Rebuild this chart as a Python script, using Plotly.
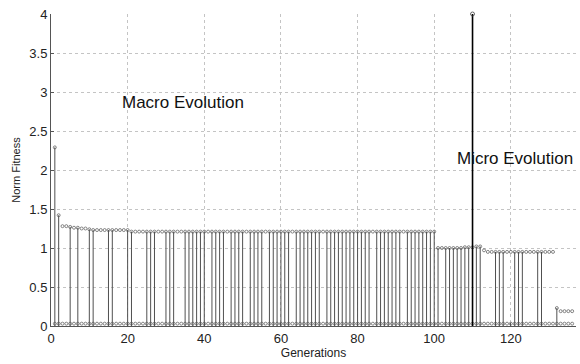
import plotly.graph_objects as go

# ---- data ----
generations = list(range(1, 137))
norm_fitness = (
    [2.29, 1.42, 1.28, 1.28, 1.27, 1.26, 1.26, 1.25, 1.25, 1.24,
     1.23, 1.23, 1.23, 1.23, 1.23, 1.23, 1.23, 1.23, 1.23, 1.23]      # gens 1-20
    + [1.21] * 80                                                     # gens 21-100
    + [1.00, 1.00, 1.00, 1.00, 1.00, 1.00, 1.00, 1.01, 1.01, 1.01,
       1.02, 1.02]                                                    # gens 101-112
    + [0.97] + [0.95] * 18                                            # gens 113-131
    + [0.23, 0.19, 0.19, 0.19, 0.19]                                  # gens 132-136
)
base_values = [0.03] * 136

stem_gens = [1, 2, 5, 7, 10, 11, 15, 16, 20, 21, 25, 26, 27, 30, 31, 32, 35, 36,
             37, 38, 39, 40, 42, 43, 44, 45, 47, 48, 49, 50, 52, 53, 54, 55, 57,
             58, 59, 60, 61, 62, 64, 65, 66, 67, 68, 69, 70, 72, 73, 74, 75, 76,
             77, 78, 79, 80, 81, 82, 83, 85, 86, 87, 88, 89, 90, 91, 93, 94, 95,
             96, 97, 98, 99, 100, 101, 103, 104, 105, 106, 107, 108, 109, 111,
             112, 116, 117, 118, 121, 122, 123, 127, 128, 132]

peak_gen = [110]
peak_value = [4.0]

x_ticks = [0, 20, 40, 60, 80, 100, 120]
y_ticks = [0, 0.5, 1, 1.5, 2, 2.5, 3, 3.5, 4]
y_tick_text = ["0", "0.5", "1", "1.5", "2", "2.5", "3", "3.5", "4"]

# ---- build stems ----
fit_of = dict(zip(generations, norm_fitness))
sx, sy = [], []
for g in stem_gens:
    sx += [g, g, None]
    sy += [0, fit_of[g], None]

fig = go.Figure()
fig.add_trace(go.Scatter(x=sx, y=sy, mode="lines",
                         line=dict(color="#505050", width=1), hoverinfo="skip"))
fig.add_trace(go.Scatter(x=generations, y=base_values, mode="markers",
                         marker=dict(symbol="circle-open", size=3, color="#555",
                                     line=dict(width=0.7))))
fig.add_trace(go.Scatter(x=generations, y=norm_fitness, mode="markers",
                         marker=dict(symbol="circle-open", size=3, color="#555",
                                     line=dict(width=0.7))))
fig.add_trace(go.Scatter(x=[peak_gen[0], peak_gen[0]], y=[0, peak_value[0]],
                         mode="lines", line=dict(color="black", width=1.6)))
fig.add_trace(go.Scatter(x=peak_gen, y=peak_value, mode="markers", cliponaxis=False,
                         marker=dict(symbol="circle-open", size=4, color="#444",
                                     line=dict(width=0.8))))

fig.add_annotation(x=18, y=2.86, text="Macro Evolution", showarrow=False,
                   xanchor="left", yanchor="middle",
                   font=dict(size=17, color="#111"))
fig.add_annotation(x=105.3, y=2.15, text="Micro Evolution", showarrow=False,
                   xanchor="left", yanchor="middle",
                   font=dict(size=17, color="#111"))

axis_common = dict(showgrid=True, gridcolor="#c4c4c4", griddash="dot", gridwidth=1,
                   zeroline=False, showline=True, linecolor="#555", linewidth=1,
                   ticks="inside", ticklen=3, tickcolor="#555",
                   tickfont=dict(size=13, color="#222"))

fig.update_layout(
    width=580, height=364,
    margin=dict(l=51, r=4, t=14, b=38),
    paper_bgcolor="white", plot_bgcolor="white",
    showlegend=False,
    font=dict(family="Liberation Sans, Arial, sans-serif", color="#222"),
    xaxis=dict(range=[0, 137], tickvals=x_ticks,
               title=dict(text="Generations", font=dict(size=12), standoff=1),
               **axis_common),
    yaxis=dict(range=[0, 4], tickvals=y_ticks, ticktext=y_tick_text,
               title=dict(text="Norm Fitness", font=dict(size=11), standoff=6),
               **axis_common),
)

fig.write_html("out.html")
